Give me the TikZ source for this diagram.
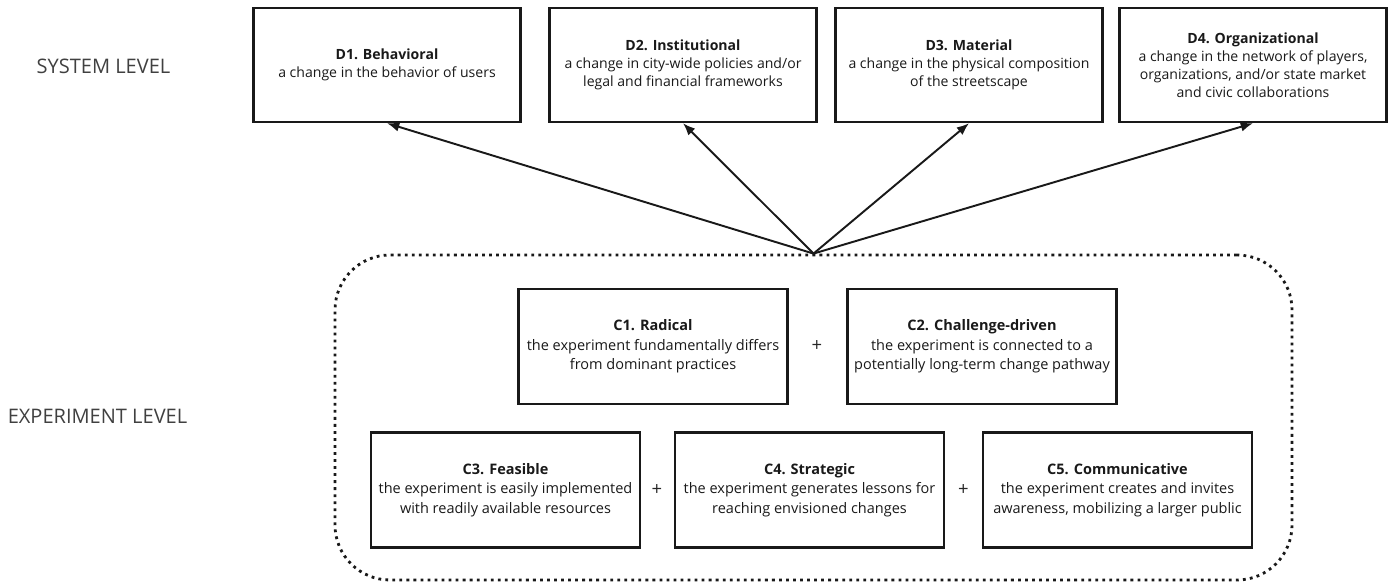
\documentclass[tikz,border=0pt]{standalone}
\usepackage{fontspec}
\setmainfont{Open Sans}
\usetikzlibrary{arrows.meta}

\begin{document}
\begin{tikzpicture}[
	dimbox/.style={draw=black!90, line width=1.4pt, minimum width=5.34cm, minimum height=2.28cm, align=center, font=\fontsize{8}{10.2}\selectfont, text=black!90},
	critbox/.style={draw=black!90, line width=1.4pt, minimum width=5.38cm, minimum height=2.3cm, align=center, font=\fontsize{8.25}{11.1}\selectfont, text=black!90},
	levellabel/.style={font=\fontsize{11.4}{13}\selectfont, text=black!75},
	plussign/.style={font=\fontsize{10.5}{11}\selectfont, text=black!85},
	toarrow/.style={line width=1.1pt, draw=black!90, -{Latex[length=7pt, width=5.5pt]}},
	]
	\useasboundingbox (0, 0) rectangle (27.84, 11.66);
	% Level labels:
	\node[levellabel] (Lsys) at (2.07, 10.34) {SYSTEM LEVEL};
	\node[levellabel] (Lexp) at (1.95, 3.34) {EXPERIMENT LEVEL};
	% System level boxes:
	\node[dimbox] (D1) at (7.74, 10.36) {\textbf{D1. Behavioral}\\a change in the behavior of users};
	\node[dimbox] (D2) at (13.66, 10.36) {\textbf{D2. Institutional}\\a change in city-wide policies and/or\\legal and financial frameworks};
	\node[dimbox] (D3) at (19.38, 10.36) {\textbf{D3. Material}\\a change in the physical composition\\of the streetscape};
	\node[dimbox] (D4) at (25.06, 10.36) {\textbf{D4. Organizational}\\a change in the network of players,\\organizations, and/or state market\\and civic collaborations};
	% Experiment level frame and boxes:
	\node[draw=black!90, line width=1.6pt, dash pattern=on 1.6pt off 2.4pt, rounded corners=1.1cm, minimum width=19.14cm, minimum height=6.5cm] (Frame) at (16.27, 3.31) {};
	\node[critbox] (C1) at (13.06, 4.73) {\textbf{C1. Radical}\\the experiment fundamentally differs\\from dominant practices};
	\node[critbox] (C2) at (19.64, 4.73) {\textbf{C2. Challenge-driven}\\the experiment is connected to a\\potentially long-term change pathway};
	\node[critbox] (C3) at (10.11, 1.86) {\textbf{C3. Feasible}\\the experiment is easily implemented\\with readily available resources};
	\node[critbox] (C4) at (16.19, 1.86) {\textbf{C4. Strategic}\\the experiment generates lessons for\\reaching envisioned changes};
	\node[critbox] (C5) at (22.35, 1.86) {\textbf{C5. Communicative}\\the experiment creates and invites\\awareness, mobilizing a larger public};
	\node[plussign] (P1) at (16.34, 4.73) {+};
	\node[plussign] (P2) at (13.14, 1.86) {+};
	\node[plussign] (P3) at (19.27, 1.86) {+};
	% Arrows:
	\draw[toarrow] (Frame.north) -- (D1.south);
	\draw[toarrow] (Frame.north) -- (D2.south);
	\draw[toarrow] (Frame.north) -- (D3.south);
	\draw[toarrow] (Frame.north) -- (D4.south);
\end{tikzpicture}
\end{document}
